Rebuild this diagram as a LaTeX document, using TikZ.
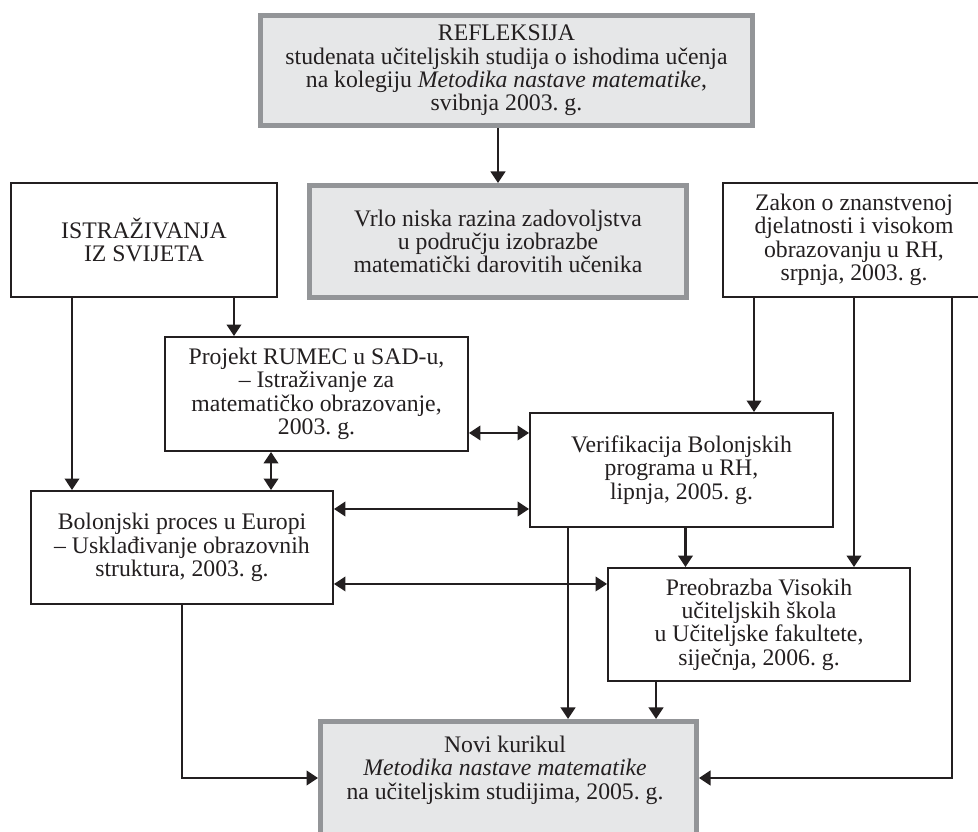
\documentclass[tikz,border=0pt]{standalone}
\usepackage{fontspec}
\setmainfont{Liberation Serif}
\usetikzlibrary{arrows.meta,calc}
\definecolor{boxgrey}{HTML}{E6E7E8}
\definecolor{edgegrey}{HTML}{939598}
\definecolor{ink}{HTML}{231F20}
\frenchspacing

\begin{document}
\begin{tikzpicture}[txt/.style={align=center,text=ink,font=\fontsize{13.5}{13.3}\selectfont},
box/.style={txt,rectangle,draw=ink,line width=1.1pt,inner sep=2pt},
greybox/.style={box,draw=edgegrey,fill=boxgrey,line width=0.1cm},
arr/.style={draw=ink,line width=1.4pt,-{Triangle[length=2.3mm,width=2.9mm]}},
darr/.style={arr,{Triangle[length=2.3mm,width=2.9mm]}-{Triangle[length=2.3mm,width=2.9mm]}}]
\useasboundingbox (0,0) rectangle (19.56,-16.64);

\node[greybox,minimum width=9.84cm,minimum height=2.2cm] at (10.13,-1.41) (refl) {REFLEKSIJA\\studenata učiteljskih studija o ishodima učenja\\na kolegiju \textit{Metodika nastave matematike},\\svibnja 2003. g.};
\node[greybox,minimum width=7.54cm,minimum height=2.24cm] at (9.96,-4.83) (vrlo) {Vrlo niska razina zadovoljstva\\u području izobrazbe\\matematički darovitih učenika};
\node[box,minimum width=5.32cm,minimum height=2.28cm] at (2.88,-4.8) (istr) {ISTRAŽIVANJA\\IZ SVIJETA};
\node[box,minimum width=5.24cm,minimum height=2.28cm] at (17.08,-4.8) (zakon) {Zakon o znanstvenoj\\djelatnosti i visokom\\obrazovanju u RH,\\srpnja, 2003. g.};
\node[box,minimum width=6.06cm,minimum height=2.28cm] at (6.33,-7.88) (rumec) {Projekt RUMEC u SAD-u,\\– Istraživanje za\\matematičko obrazovanje,\\2003. g.};
\node[box,minimum width=6.06cm,minimum height=2.28cm] at (13.63,-9.4) (verif) {Verifikacija Bolonjskih\\programa u RH,\\lipnja, 2005. g.};
\node[box,minimum width=6.04cm,minimum height=2.26cm] at (3.64,-10.95) (bolon) {Bolonjski proces u Europi\\– Usklađivanje obrazovnih\\struktura, 2003. g.};
\node[box,minimum width=6.04cm,minimum height=2.26cm] at (15.18,-12.49) (preob) {Preobrazba Visokih\\učiteljskih škola\\u Učiteljske fakultete,\\siječnja, 2006. g.};
\node[greybox,minimum width=7.52cm,minimum height=2.26cm] at (10.17,-15.56) (novi) {};
\node[txt] at (10.1,-15.4) (novitext) {Novi kurikul\\\textit{Metodika nastave matematike}\\na učiteljskim studijima, 2005. g.};

% connector ends
\coordinate (i1) at ([xshift=1.24cm]istr.south west);
\coordinate (i2) at ([xshift=-0.88cm]istr.south east);
\coordinate (z1) at ([xshift=0.64cm]zakon.south west);
\coordinate (z3) at ([xshift=1.96cm]zakon.south);
\coordinate (v1) at ([xshift=0.78cm]verif.south west);
\coordinate (v2) at ([xshift=0.08cm]verif.south);
\coordinate (p1) at ([xshift=0.98cm]preob.south west);
\coordinate (r1) at ([xshift=2.14cm]rumec.south west);
\coordinate (r2) at ([yshift=0.38cm]rumec.south east);
\coordinate (b1) at ([yshift=-0.38cm]bolon.north east);
\coordinate (b2) at ([yshift=0.42cm]bolon.south east);

\draw[arr] (vrlo.north |- refl.south) -- (vrlo.north);
\draw[arr] (i2) -- (i2 |- rumec.north);
\draw[arr] (i1) -- (i1 |- bolon.north);
\draw[arr] (z1) -- (z1 |- verif.north);
\draw[arr] (zakon.south) -- (zakon.south |- preob.north);
\draw[arr] (z3) -- (z3 |- novi.east) -- (novi.east);
\draw[arr] (v2) -- (v2 |- preob.north);
\draw[arr] (v1) -- (v1 |- novi.north);
\draw[arr] (p1) -- (p1 |- novi.north);
\draw[arr] (bolon.south) -- (bolon.south |- novi.west) -- (novi.west);

\draw[darr] (r2) -- (r2 -| verif.west);
\draw[darr] (r1) -- (r1 |- bolon.north);
\draw[darr] (b1) -- (b1 -| verif.west);
\draw[darr] (b2) -- (b2 -| preob.west);
\end{tikzpicture}
\end{document}
